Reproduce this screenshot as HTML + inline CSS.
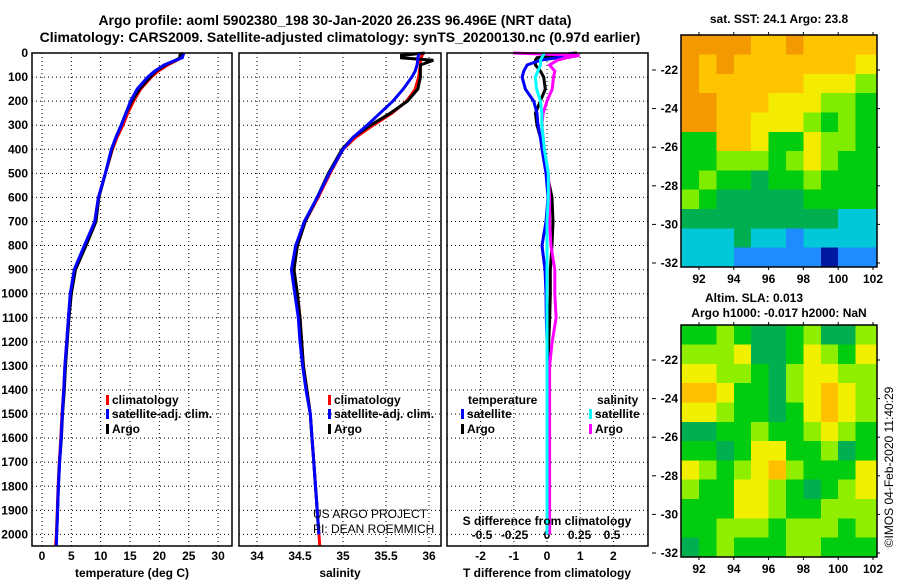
<!DOCTYPE html>
<html><head><meta charset="utf-8"><style>
body{margin:0;background:#fff;}
svg{display:block;font-family:"Liberation Sans",Arial,sans-serif;}
.t{font-weight:bold;font-size:12px;fill:#000;}
.ti{font-weight:bold;font-size:14px;fill:#000;}
.g{stroke:#000;stroke-width:1;stroke-dasharray:1,3;}
</style></head><body>
<svg id="c" width="900" height="580" viewBox="0 0 900 580"></svg>
<script>
// ---- profile data ----
const depths   = [0,10,20,30,50,75,100,150,200,250,300,350,400,500,600,700,800,900,1000,1100,1200,1300,1400,1500,1600,1700,1800,1900,2000,2050];
const climT    = [24.1,24.0,23.8,23.0,21.4,19.8,18.6,16.8,15.6,14.6,13.8,12.8,12.0,10.8,9.6,9.0,7.3,5.6,4.9,4.5,4.2,3.9,3.7,3.4,3.2,2.95,2.75,2.6,2.45,2.3];
const satT     = [24.2,24.0,23.9,22.8,20.8,19.2,18.0,16.2,15.1,14.3,13.5,12.6,11.8,10.8,9.6,9.0,7.2,5.5,4.8,4.5,4.2,3.9,3.7,3.45,3.25,3.0,2.8,2.65,2.5,2.45];
const argoT    = [24.0,23.5,23.5,22.8,21.0,19.4,18.4,16.6,15.3,14.3,13.5,12.6,11.9,10.8,9.7,9.2,7.5,5.7,5.0,4.6,4.3,4.0,3.8,3.5,3.3,3.0,2.8,2.65,2.5,null];
const climS    = [35.93,35.92,35.91,35.9,35.9,35.89,35.88,35.84,35.74,35.57,35.35,35.15,35.0,34.85,34.71,34.56,34.47,34.42,34.47,34.5,34.52,34.54,34.58,34.62,34.64,34.66,34.68,34.7,34.72,34.73];
const satS     = [35.88,35.88,35.87,35.87,35.86,35.84,35.8,35.7,35.58,35.43,35.28,35.12,35.0,34.84,34.7,34.55,34.45,34.4,34.44,34.48,34.5,34.53,34.57,34.62,34.64,34.66,34.68,34.7,34.72,null];
const argoS    = [35.95,35.68,35.68,36.05,35.9,35.9,35.9,35.87,35.75,35.55,35.32,35.12,34.99,34.83,34.7,34.56,34.47,34.43,34.47,34.5,34.52,34.54,34.58,34.62,34.64,34.66,34.68,34.7,34.72,null];
const satDT    = [0.8,0.5,0.3,-0.2,-0.6,-0.7,-0.75,-0.65,-0.4,-0.3,-0.27,-0.2,-0.15,-0.03,0.03,-0.03,-0.15,-0.06,-0.03,-0.02,0,0.02,0.03,0.04,0.05,0.05,0.05,0.05,0.05,null];
const argoDT   = [0.9,0.2,-0.3,-0.35,-0.35,-0.2,-0.1,-0.05,-0.2,-0.35,-0.3,-0.2,-0.1,0,0.15,0.18,0.15,0.1,0.1,0.08,0.05,0.04,0.04,0.03,0.03,0.03,0.03,0.02,0.02,null];
const satDS    = [-0.02,-0.03,-0.04,-0.05,-0.05,-0.07,-0.09,-0.08,-0.05,-0.04,-0.04,-0.03,-0.02,0.01,0.01,0.0,0.0,0.0,0.0,0.0,0.0,0.0,0.0,0.0,0.0,0.0,0.0,0.0,0.0,null];
const argoDS   = [-0.26,0.25,0.15,0.08,0.02,0.06,0.05,0.04,0.0,-0.03,-0.04,-0.03,-0.02,0.01,0.02,0.02,0.03,0.06,0.06,0.07,0.04,0.02,0.02,0.02,0.02,0.02,0.02,0.02,0.02,null];
const depthTicks = [0,100,200,300,400,500,600,700,800,900,1000,1100,1200,1300,1400,1500,1600,1700,1800,1900,2000];
const tTicks = [0,5,10,15,20,25,30];
const sTicks = [34,34.5,35,35.5,36];
const sTickLabels = ["34","34.5","35","35.5","36"];
const dtTicks = [-2,-1,0,1,2];
const dsTicks = [-0.5,-0.25,0,0.25,0.5];
// ---- map data (row = 1 deg lat from -20.2 S, col = 1 deg lon from 91) ----
const sstGrid = [
[8,8,8,8,7,7,8,7,7,7,7],
[8,7,8,7,7,7,7,7,7,7,6],
[8,7,7,7,7,7,7,6,6,6,5],
[8,8,7,7,7,6,6,6,5,5,4],
[8,8,7,7,6,6,6,5,4,5,4],
[4,4,7,7,6,4,4,6,5,5,4],
[4,4,5,5,5,4,5,6,5,4,4],
[4,5,4,4,3,4,4,5,4,4,4],
[5,4,3,3,3,3,3,4,4,4,4],
[3,3,3,3,3,3,3,3,3,2,2],
[2,2,2,3,2,2,1,2,2,2,2],
[2,2,2,1,1,1,1,1,0,1,1]];
const slaGrid = [
[1,1,2,1,0,0,1,2,0,0,2],
[2,2,2,3,0,0,1,3,2,1,3],
[3,3,2,2,1,0,2,3,3,2,2],
[4,4,3,1,1,0,2,3,4,3,2],
[3,3,2,1,1,0,1,3,4,3,2],
[0,0,1,1,2,1,1,2,3,2,1],
[1,1,0,1,3,3,1,1,2,0,1],
[3,2,1,2,3,4,2,1,1,1,3],
[2,1,1,3,3,2,1,0,1,2,3],
[1,1,1,3,3,2,1,1,2,2,2],
[1,1,2,2,2,1,2,2,2,1,2],
[0,1,2,1,1,1,2,2,1,1,1]];
const lonTicks = [92,94,96,98,100,102];
const latTicks = [-22,-24,-26,-28,-30,-32];

const NS="http://www.w3.org/2000/svg", svg=document.getElementById('c');
function mk(tag,a,parent){const e=document.createElementNS(NS,tag);for(const k in a)e.setAttribute(k,a[k]);(parent||svg).appendChild(e);return e;}
function txt(x,y,s,cls,anchor){const e=mk('text',{x:x,y:y,class:cls||'t','text-anchor':anchor||'middle'});e.textContent=s;return e;}

const pTop=53, pBot=546;
const yD=d=>pTop+d*0.2407;
const xT=v=>42+v*5.87, xS=v=>257+(v-34)*86, xDT=v=>547+v*33.2, xDS=v=>547+v*130;
const panels=[[32,232,'temperature-panel'],[239,441,'salinity-panel'],[447,648,'difference-panel']];
const grids=[[tTicks.map(xT)],[sTicks.map(xS)],[dtTicks.map(xDT)]];

panels.forEach((p,i)=>{
  const g=mk('g',{});
  
  
  depthTicks.forEach(d=>{mk('line',{x1:p[0],x2:p[1],y1:yD(d),y2:yD(d),class:'g'},g);});
  grids[i][0].forEach(x=>{mk('line',{x1:x,x2:x,y1:pTop,y2:pBot,class:'g'},g);});
});
depthTicks.forEach(d=>{const e=txt(28,yD(d)+4,String(d),'t','end');

});
tTicks.forEach(v=>{txt(xT(v),560,String(v));});
sTicks.forEach((v,i)=>{txt(xS(v),560,sTickLabels[i]);});
dtTicks.forEach(v=>{txt(xDT(v),560,String(v));});
dsTicks.forEach(v=>{txt(xDS(v),539,String(v));});
function line(xf,vals,col,name){
  const pts=[];depths.forEach((d,i)=>{if(vals[i]!==null)pts.push(xf(vals[i]).toFixed(1)+','+yD(d).toFixed(1));});
  const e=mk('polyline',{points:pts.join(' '),fill:'none',stroke:col,'stroke-width':3,'stroke-linejoin':'miter'});
  
  
}
line(xT,climT,'#ff0000','temp-climatology-line');
line(xT,argoT,'#000000','temp-argo-line');
line(xT,satT,'#0000ff','temp-satellite-line');
line(xS,climS,'#ff0000','sal-climatology-line');
line(xS,argoS,'#000000','sal-argo-line');
line(xS,satS,'#0000ff','sal-satellite-line');
line(xDT,argoDT,'#000000','tdiff-argo-line');
line(xDT,satDT,'#0000ff','tdiff-satellite-line');
line(xDS,argoDS,'#ff00ff','sdiff-argo-line');
line(xDS,satDS,'#00ffff','sdiff-satellite-line');
panels.forEach(p=>{mk('rect',{x:p[0],y:pTop,width:p[1]-p[0],height:pBot-pTop,fill:'none',stroke:'#000','stroke-width':1.5});});
function leg(x,y,col,label){mk('rect',{x:x-2,y:y-9,width:3,height:10,fill:col});const e=txt(x+4,y,label,'t','start');

}
leg(108,404,'#ff0000','climatology');leg(108,418,'#0000ff','satellite-adj. clim.');leg(108,433,'#000','Argo');
leg(330,404,'#ff0000','climatology');leg(330,418,'#0000ff','satellite-adj. clim.');leg(330,433,'#000','Argo');
txt(468,404,'temperature','t','start');txt(597,404,'salinity','t','start');
leg(463,418,'#0000ff','satellite');leg(463,433,'#000','Argo');
leg(591,418,'#00ffff','satellite');leg(591,433,'#ff00ff','Argo');
txt(547,525,'S difference from climatology');
const pr1=mk('text',{x:313,y:518,'font-size':'12px','text-anchor':'start'});pr1.textContent='US ARGO PROJECT';
const pr2=mk('text',{x:313,y:533,'font-size':'12px','text-anchor':'start'});pr2.textContent='PI: DEAN ROEMMICH';
txt(132,577,'temperature (deg C)');txt(340,577,'salinity');txt(547,577,'T difference from climatology');
txt(335,25,'Argo profile: aoml 5902380_198 30-Jan-2020 26.23S 96.496E (NRT data)','ti');
txt(340,42,'Climatology: CARS2009. Satellite-adjusted climatology: synTS_20200130.nc (0.97d earlier)','ti');

const sstCols=['#0018a0','#1e8cff','#00c8d8','#00b050','#00cc10','#80ec00','#f4ec00','#ffc400','#f49a00'];
const slaCols=['#00b050','#00cc10','#90ee00','#f0f000','#ffc000'];
function map(x0,x1,y0,y1,latTop,grid,cols,name,y22,y32){
  const g=mk('g',{});
  
  
  const xL=v=>699+(v-92)*17.4, yL=v=>y22+(-22-v)*(y32-y22)/10;
  grid.forEach((row,r)=>row.forEach((v,c)=>{
    const xa=Math.max(x0,xL(91+c)), xb=Math.min(x1,xL(92+c)+(c==row.length-1?20:0));
    const ya=Math.max(y0,yL(latTop-r)), yb=Math.min(y1,yL(latTop-r-1)+(r==grid.length-1?20:0));
    const rc=mk('rect',{x:xa,y:ya,width:Math.max(0,xb-xa)+0.5,height:Math.max(0,yb-ya)+0.5,fill:cols[v],'shape-rendering':'crispEdges'},g);
    
    
  }));
  mk('rect',{x:x0,y:y0,width:x1-x0,height:y1-y0,fill:'none',stroke:'#000','stroke-width':1.5});
  lonTicks.forEach(v=>{const x=xL(v);mk('line',{x1:x,x2:x,y1:y0,y2:y0-3,stroke:'#000'});mk('line',{x1:x,x2:x,y1:y1,y2:y1+3,stroke:'#000'});txt(x,y1+16,String(v));});
  latTicks.forEach(v=>{const y=yL(v);mk('line',{x1:x1,x2:x1+3,y1:y,y2:y,stroke:'#000'});mk('line',{x1:652,x2:656,y1:y,y2:y,stroke:'#000'});txt(678,y+4,String(v),'t','end');});
}
map(681,877,35,267,-20.2,sstGrid,sstCols,'sst-map',70,263);
map(681,877,325,557,-20.2,slaGrid,slaCols,'sla-map',360,553);
txt(779,23,'sat. SST: 24.1 Argo: 23.8');
txt(754,302,'Altim. SLA: 0.013');txt(779,317,'Argo h1000: -0.017 h2000: NaN');
const im=mk('text',{x:0,y:0,'font-size':'12px','text-anchor':'middle',transform:'translate(893,467) rotate(-90)'});im.textContent='©IMOS 04-Feb-2020 11:40:29';
</script>
</body></html>
